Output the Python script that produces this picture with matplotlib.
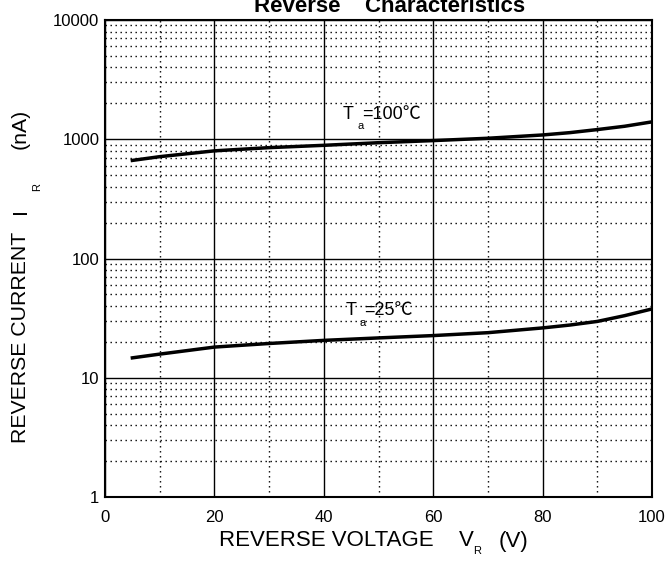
import numpy as np
import matplotlib
matplotlib.use('Agg')
import matplotlib.pyplot as plt
from matplotlib.ticker import FixedLocator, LogLocator, NullFormatter

plt.rcParams['font.family'] = ['Liberation Sans', 'Noto Sans CJK SC', 'DejaVu Sans']

# data
voltage = [5, 10, 20, 30, 40, 50, 60, 70, 80, 85, 90, 95, 100]
ir_100c = [665, 715, 800, 851, 890, 936, 975, 1020, 1087, 1137, 1206, 1286, 1400]
ir_25c = [14.7, 15.8, 18.1, 19.4, 20.6, 21.6, 22.6, 23.9, 26.2, 27.7, 29.7, 33.2, 37.8]

x_ticks = [0, 20, 40, 60, 80, 100]
y_ticks = [1, 10, 100, 1000, 10000]
y_ticklabels = ['1', '10', '100', '1000', '10000']

fig = plt.figure(figsize=(6.69, 5.72), dpi=100)
ax = fig.add_axes([0.157, 0.131, 0.8176, 0.834])

ax.set_yscale('log')
ax.set_xlim(0, 100)
ax.set_ylim(1, 10000)

ax.xaxis.set_major_locator(FixedLocator(x_ticks))
ax.xaxis.set_minor_locator(FixedLocator([10, 30, 50, 70, 90]))
ax.yaxis.set_major_locator(FixedLocator(y_ticks))
ax.yaxis.set_minor_locator(LogLocator(base=10, subs=np.arange(2, 10)))
ax.yaxis.set_minor_formatter(NullFormatter())
ax.set_yticklabels(y_ticklabels)

ax.grid(which='major', color='black', linewidth=1.0, linestyle='-')
ax.grid(which='minor', color='black', linewidth=1.0, linestyle=(0, (1, 2.6)))
ax.set_axisbelow(True)

ax.tick_params(which='both', length=0)
ax.tick_params(axis='x', labelsize=12, pad=9)
ax.tick_params(axis='y', labelsize=12, pad=4)
for s in ax.spines.values():
    s.set_linewidth(1.5)

ax.plot(voltage, ir_100c, color='black', linewidth=2.5)
ax.plot(voltage, ir_25c, color='black', linewidth=2.5)

# curve labels: T, subscript a, then the rest
ax.text(43.5, 1622, 'T', fontsize=13, va='center', ha='left')
ax.text(46.1, 1300, 'a', fontsize=8, va='center', ha='left')
ax.text(47.0, 1622, '=100℃', fontsize=13, va='center', ha='left')
ax.text(44.0, 36.8, 'T', fontsize=13, va='center', ha='left')
ax.text(46.5, 29.0, 'a', fontsize=8, va='center', ha='left')
ax.text(47.4, 36.8, '=25℃', fontsize=13, va='center', ha='left')

# y axis label pieces (rotated)
ylx = 20 / 669
fig.text(ylx, 1 - 443 / 572, 'REVERSE CURRENT', rotation=90, fontsize=15.3,
         va='center', ha='left', rotation_mode='anchor')
fig.text(ylx, 1 - 214 / 572, 'I', rotation=90, fontsize=15.3,
         va='center', ha='left', rotation_mode='anchor')
fig.text(37 / 669, 1 - 191 / 572, 'R', rotation=90, fontsize=8,
         va='center', ha='left', rotation_mode='anchor')
fig.text(ylx, 1 - 149 / 572, '(nA)', rotation=90, fontsize=15.3,
         va='center', ha='left', rotation_mode='anchor')

# x axis label pieces
fig.text(219 / 669, 1 - 541 / 572, 'REVERSE VOLTAGE', fontsize=16, va='center', ha='left')
fig.text(459 / 669, 1 - 541 / 572, 'V', fontsize=16, va='center', ha='left')
fig.text(473 / 669, 1 - 551 / 572, 'R', fontsize=8, va='center', ha='left')
fig.text(499 / 669, 1 - 541 / 572, '(V)', fontsize=16, va='center', ha='left')

fig.text(0.583, 1 - 12 / 572, 'Reverse    Characteristics', fontsize=16,
         fontweight='bold', ha='center', va='baseline')

fig.savefig('out.png', dpi=100)
